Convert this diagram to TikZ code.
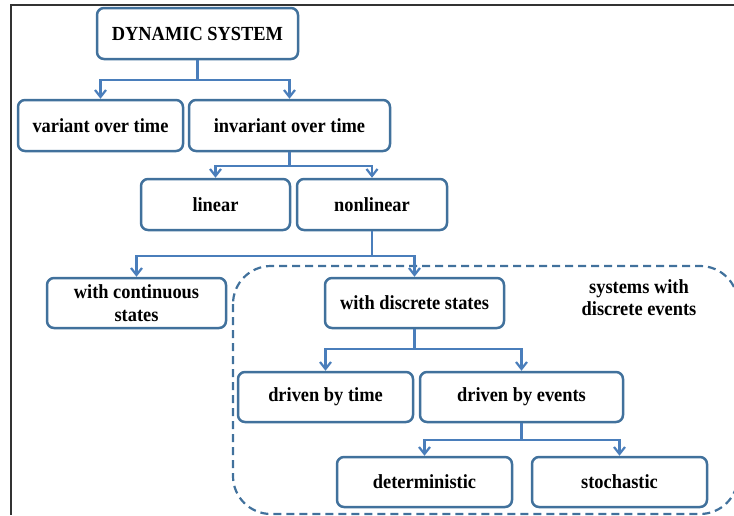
\documentclass[tikz,border=0pt]{standalone}
\usepackage{fontspec}
\setmainfont{Liberation Serif}[FakeStretch=0.92]
\usetikzlibrary{arrows.meta}
\definecolor{boxblue}{HTML}{41719C}
\definecolor{linkblue}{HTML}{4A7EBB}
\definecolor{framegray}{HTML}{333333}
\definecolor{groupblue}{HTML}{41719C}

\begin{document}
\begin{tikzpicture}[x=1pt,y=-1pt,
  box/.style={draw=boxblue, line width=2.5pt, rounded corners=7pt, fill=white,
    font=\fontsize{20}{23}\selectfont\bfseries, align=center, inner sep=0pt, text=black},
  label/.style={font=\fontsize{20}{22}\selectfont\bfseries, align=center, text=black},
  link/.style={draw=linkblue, line width=2.2pt},
  arr/.style={link, -{Straight Barb[length=7pt,width=11pt]}},
  group/.style={draw=groupblue, line width=2.2pt, dash pattern=on 8pt off 5pt, rounded corners=38pt},
]
\useasboundingbox (0,0) rectangle (734,515);

% outer frame (top and left edges)
\draw[framegray, line width=1.5pt] (734,5) -- (11,5) -- (11,515);

% region of discrete-event systems
\begin{scope}
  \clip (0,0) rectangle (734,515);
  \draw[group] (233,266) rectangle (738,514);
\end{scope}
\node[label] (dev) at (639,298) {systems with\\discrete events};

% classification boxes
\node[box, minimum width=201pt, minimum height=51pt] (ds)  at (197.5,33.5) {DYNAMIC SYSTEM};
\node[box, minimum width=165pt, minimum height=51pt] (var) at (100.5,125.5) {variant over time};
\node[box, minimum width=201pt, minimum height=51pt] (inv) at (289.5,125.5) {invariant over time};
\node[box, minimum width=149pt, minimum height=51pt] (lin) at (215.5,204.5) {linear};
\node[box, minimum width=150pt, minimum height=51pt] (nl)  at (372,204.5) {nonlinear};
\node[box, minimum width=179pt, minimum height=50pt] (cont) at (136.5,303) {with continuous\\states};
\node[box, minimum width=179pt, minimum height=50pt] (disc) at (414.5,303) {with discrete states};
\node[box, minimum width=175pt, minimum height=50pt] (tim) at (325.5,397) {driven by time};
\node[box, minimum width=203pt, minimum height=50pt] (evt) at (521.5,397) {driven by events};
\node[box, minimum width=175pt, minimum height=50pt] (det) at (424.5,482) {deterministic};
\node[box, minimum width=175pt, minimum height=50pt] (sto) at (619.5,482) {stochastic};

% branching connectors
\draw[link] (ds.south) -- ++(0,20) coordinate (j1);
\draw[arr] (j1) -| (var.north);
\draw[arr] (j1) -| (inv.north);

\draw[link] (inv.south) -- ++(0,14) coordinate (j2);
\draw[arr] (j2) -| (lin.north);
\draw[arr] (j2) -| (nl.north);

\draw[link] (nl.south) -- ++(0,25) coordinate (j3);
\draw[arr] (j3) -| (cont.north);
\draw[arr] (j3) -| (disc.north);

\draw[link] (disc.south) -- ++(0,20) coordinate (j4);
\draw[arr] (j4) -| (tim.north);
\draw[arr] (j4) -| (evt.north);

\draw[link] (evt.south) -- ++(0,17) coordinate (j5);
\draw[arr] (j5) -| (det.north);
\draw[arr] (j5) -| (sto.north);
\end{tikzpicture}
\end{document}
